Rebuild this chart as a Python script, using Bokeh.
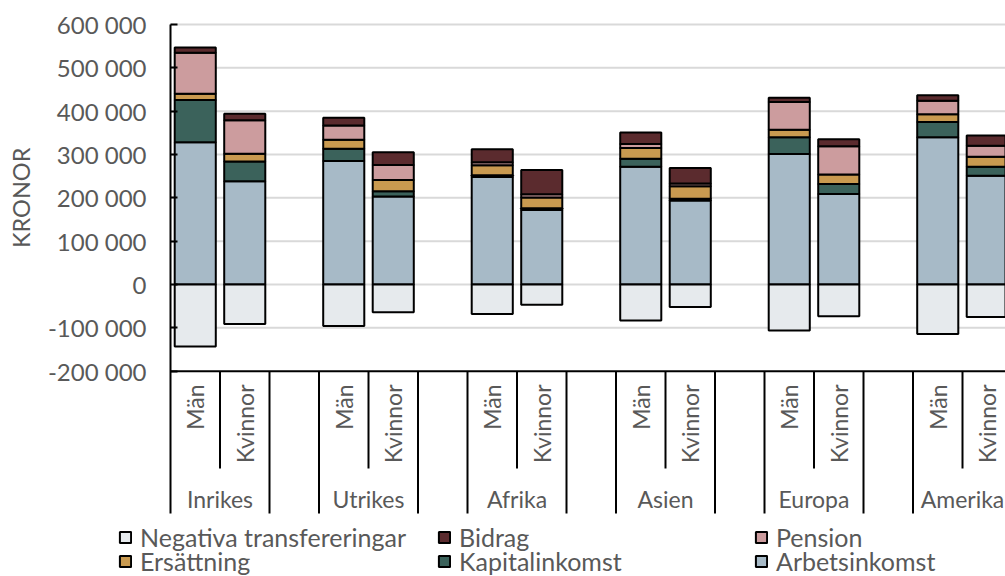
import math
from bokeh.plotting import figure
from bokeh.models import (Range1d, FixedTicker, CustomJSTickFormatter, Legend,
                          LegendItem, ColumnDataSource)
from bokeh.embed import file_html
from bokeh.resources import INLINE
from bokeh.core.properties import value

# ---------------- data ----------------
groups = ["Inrikes", "Utrikes", "Afrika", "Asien", "Europa", "Amerika"]
sexes = ["Män", "Kvinnor"]
# order: Inrikes Män, Inrikes Kvinnor, Utrikes Män, ...
arbetsinkomst = [328000, 238000, 285000, 203000, 248000, 172000, 272000, 194000, 301000, 209000, 340000, 251000]
kapitalinkomst = [98000, 46000, 28000, 12000, 4000, 4000, 18000, 4000, 39000, 23000, 35000, 21000]
ersattning = [14000, 18000, 21000, 26000, 23000, 25000, 25000, 29000, 17000, 22000, 18000, 23000]
pension = [95000, 77000, 33000, 35000, 7000, 7000, 9000, 6000, 64000, 65000, 31000, 25000]
bidrag = [12000, 15000, 18000, 29000, 30000, 56000, 27000, 36000, 10000, 16000, 13000, 24000]
negativa = [-143000, -91000, -96000, -64000, -68000, -47000, -83000, -52000, -106000, -73000, -114000, -75000]
y_ticks = [-200000, -100000, 0, 100000, 200000, 300000, 400000, 500000, 600000]
y_title = "KRONOR"

series = ["Arbetsinkomst", "Kapitalinkomst", "Ersättning", "Pension", "Bidrag"]
colors = {"Arbetsinkomst": "#A7BAC7", "Kapitalinkomst": "#3B625B", "Ersättning": "#C99A50",
          "Pension": "#CC9C9E", "Bidrag": "#5B2B2E", "Negativa transfereringar": "#E6EAED"}

# ---------------- layout ----------------
W, H = 1005, 576
AX_X = 170          # pixel of the value axis
SLOT_PX = 49.5
PX_PER_UNIT = 43.333 / 100000.0
Y_TOP_PX = 24       # pixel of 600 000
FONT = "Lato"
TXT = "#595959"

def ydata(ypx):
    return 600000 - (ypx - Y_TOP_PX) / PX_PER_UNIT

def xdata(xpx):
    return (xpx - AX_X) / SLOT_PX

x_start, x_end = xdata(0), xdata(W)
y_end, y_start = ydata(0), ydata(H)

p = figure(width=W, height=H, output_backend="svg", toolbar_location=None,
           x_range=Range1d(x_start, x_end), y_range=Range1d(y_start, y_end),
           x_axis_location=None, min_border_left=0, min_border_top=0,
           min_border_right=0, min_border_bottom=0, title=None)
p.outline_line_color = None
p.background_fill_color = "white"
p.xgrid.visible = False
p.ygrid.visible = False

y_axis_line = -200000
y_short = ydata(468)
y_long = ydata(513)

# value axis, fixed at x = 0
yax = p.yaxis[0]
yax.fixed_location = 0
yax.bounds = (y_long, 600000)
yax.ticker = FixedTicker(ticks=y_ticks)
yax.formatter = CustomJSTickFormatter(code=r"return tick.toFixed(0).replace(/\B(?=(\d{3})+(?!\d))/g, ' ');")
yax.axis_line_color = "black"
yax.axis_line_width = 2
yax.major_tick_in = 7
yax.major_tick_out = 0
yax.major_tick_line_width = 2
yax.major_tick_line_color = "black"
yax.minor_tick_line_color = None
yax.major_label_text_font = FONT
yax.major_label_text_font_size = "24px"
yax.major_label_text_color = TXT
yax.major_label_standoff = 24

# grid lines (only over the plot area)
grid_y = [t for t in y_ticks if t != y_axis_line]
p.segment(x0=[0] * len(grid_y), y0=grid_y, x1=[x_end + 1] * len(grid_y), y1=grid_y,
          line_color="#D9D9D9", line_width=2)

# category positions
xs, cat_labels = [], []
for gi, g in enumerate(groups):
    for si, s in enumerate(sexes):
        xs.append(3 * gi + si + 0.5)
        cat_labels.append(s)

data = dict(x=xs, Arbetsinkomst=arbetsinkomst, Kapitalinkomst=kapitalinkomst,
            Ersättning=ersattning, Pension=pension, Bidrag=bidrag, neg=negativa,
            zero=[0] * len(xs))
src = ColumnDataSource(data)

BW = 0.83
rs = p.vbar_stack(series, x="x", width=BW, source=src,
                  fill_color=[colors[s] for s in series], line_color="black", line_width=2)
rneg = p.vbar(x="x", top="zero", bottom="neg", width=BW, source=src,
              fill_color=colors["Negativa transfereringar"], line_color="black", line_width=2)
rend = dict(zip(series, rs))
rend["Negativa transfereringar"] = rneg

# category axis
p.segment(x0=[0], y0=[y_axis_line], x1=[x_end + 1], y1=[y_axis_line], line_color="black", line_width=2)
long_x = [b for gi in range(len(groups)) for b in (3 * gi + 2, 3 * gi + 3)]
short_x = [3 * gi + 1 for gi in range(len(groups))]
p.segment(x0=long_x, y0=[y_axis_line] * len(long_x), x1=long_x, y1=[y_long] * len(long_x),
          line_color="black", line_width=2)
p.segment(x0=short_x, y0=[y_axis_line] * len(short_x), x1=short_x, y1=[y_short] * len(short_x),
          line_color="black", line_width=2)

p.text(x=xs, y=[ydata(384)] * len(xs), text=cat_labels, angle=math.pi / 2,
       text_align="right", text_baseline="middle", text_font=value(FONT),
       text_font_size="23px", text_color=TXT)
p.text(x=[3 * gi + 1 for gi in range(len(groups))], y=[ydata(498)] * len(groups), text=groups,
       text_align="center", text_baseline="middle", text_font=value(FONT),
       text_font_size="23px", text_color=TXT)

# axis title
p.text(x=[xdata(20)], y=[(600000 + y_axis_line) / 2], text=[y_title], angle=math.pi / 2,
       text_align="center", text_baseline="middle", text_font=value(FONT),
       text_font_size="23.5px", text_color=TXT)

# legend: 3 columns x 2 rows, one Legend per entry for exact placement
LH = 30
cells = [("Negativa transfereringar", 118, 537), ("Bidrag", 437, 537), ("Pension", 754, 537),
         ("Ersättning", 118, 561), ("Kapitalinkomst", 437, 561), ("Arbetsinkomst", 754, 561)]
for name, gx, cy in cells:
    leg = Legend(items=[LegendItem(label=name, renderers=[rend[name]])],
                 location=(gx, H - cy - LH / 2), orientation="vertical",
                 glyph_width=14, glyph_height=14, label_standoff=8,
                 label_text_font=FONT, label_text_font_size="25px", label_text_color=TXT,
                 label_height=LH, spacing=0, padding=0, margin=0,
                 background_fill_alpha=0, border_line_alpha=0)
    p.add_layout(leg)

open("out.html", "w").write(file_html(p, INLINE))
